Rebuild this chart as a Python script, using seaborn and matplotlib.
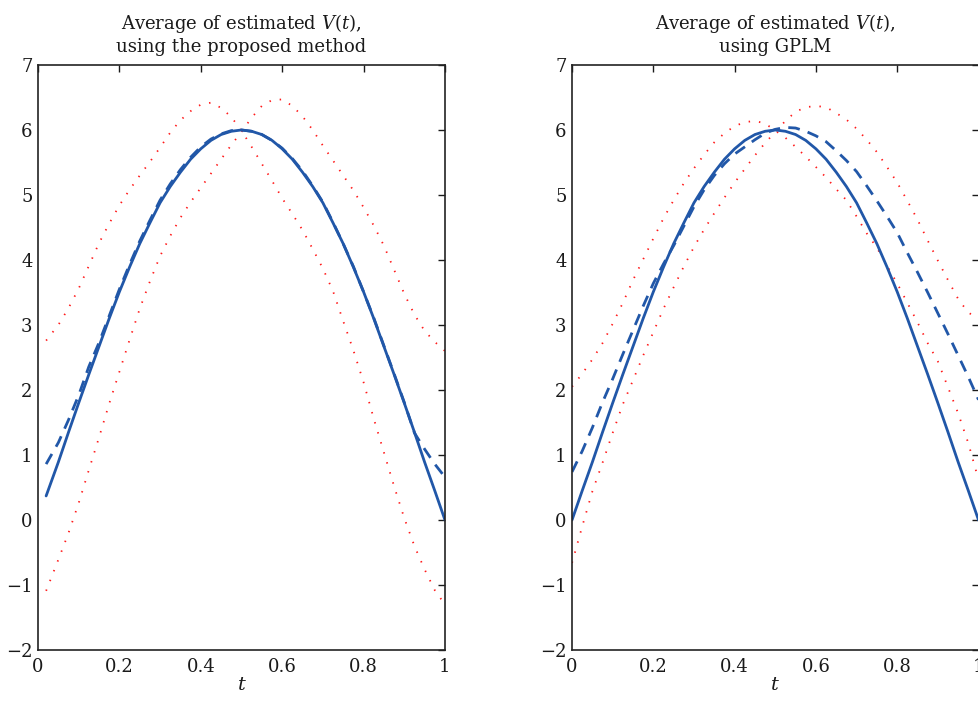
import numpy as np
import pandas as pd
import matplotlib
matplotlib.use("Agg")
import matplotlib.pyplot as plt
import seaborn as sns

# evaluation grid of t (the left panel starts at t=0.02)
t_right = list(np.round(np.arange(0, 1.0001, 0.025), 3))
t_left = [0.02] + t_right[2:]

# true V(t) (solid line)
true_left = [0.37,
             0.89, 1.35, 1.80, 2.24, 2.67, 3.10, 3.51, 3.89, 4.25, 4.57,
             4.88, 5.13, 5.35, 5.55, 5.71, 5.84, 5.93, 5.98, 6.00,
             5.98, 5.93, 5.84, 5.71, 5.55, 5.35, 5.13, 4.88, 4.57, 4.25,
             3.89, 3.51, 3.10, 2.67, 2.24, 1.80, 1.35, 0.89, 0.45, 0.00]
true_right = [0.00, 0.45,
              0.89, 1.35, 1.80, 2.24, 2.67, 3.10, 3.51, 3.89, 4.25, 4.57,
              4.88, 5.13, 5.35, 5.55, 5.71, 5.84, 5.93, 5.98, 6.00,
              5.98, 5.93, 5.84, 5.71, 5.55, 5.35, 5.13, 4.88, 4.57, 4.25,
              3.89, 3.51, 3.10, 2.67, 2.24, 1.80, 1.35, 0.89, 0.45, 0.00]

# proposed method: average estimate (dashed) and bands (dotted)
prop_mean = [0.86,
             1.19, 1.54, 1.92, 2.36, 2.73, 3.14, 3.55, 3.93, 4.29, 4.61,
             4.92, 5.17, 5.39, 5.58, 5.74, 5.86, 5.94, 5.99, 6.00,
             5.98, 5.93, 5.84, 5.72, 5.56, 5.37, 5.14, 4.89, 4.58, 4.25,
             3.90, 3.51, 3.11, 2.68, 2.25, 1.81, 1.34, 1.09, 0.86, 0.66]
prop_upper = [2.76,
              3.00, 3.26, 3.56, 3.91, 4.26, 4.56, 4.84, 5.08, 5.30, 5.51,
              5.73, 5.96, 6.15, 6.29, 6.39, 6.42, 6.34, 6.20, 5.99,
              5.74, 5.48, 5.22, 4.95, 4.71, 4.46, 4.17, 3.87, 3.52, 3.06,
              2.61, 2.12, 1.56, 1.04, 0.52, 0.03, -0.40, -0.76, -1.08, -1.30]
prop_lower = [-1.09,
              -0.61, -0.20, 0.26, 0.77, 1.27, 1.79, 2.28, 2.77, 3.25, 3.67,
              4.06, 4.37, 4.65, 4.89, 5.11, 5.33, 5.55, 5.77, 5.97,
              6.19, 6.37, 6.46, 6.47, 6.37, 6.21, 6.00, 5.76, 5.53, 5.30,
              5.07, 4.81, 4.53, 4.22, 3.85, 3.48, 3.16, 2.91, 2.74, 2.60]

# GPLM: average estimate (dashed) and bands (dotted)
gplm_mean = [0.74, 1.06,
             1.42, 1.81, 2.17, 2.55, 2.92, 3.29, 3.64, 3.94, 4.22, 4.52,
             4.82, 5.08, 5.30, 5.48, 5.63, 5.74, 5.85, 5.95, 6.01,
             6.04, 6.03, 5.98, 5.91, 5.82, 5.68, 5.53, 5.36, 5.14, 4.91,
             4.67, 4.42, 4.11, 3.81, 3.50, 3.18, 2.86, 2.53, 2.20, 1.85]
gplm_upper = [2.05, 2.25,
              2.47, 2.72, 3.02, 3.34, 3.69, 4.01, 4.33, 4.64, 4.92, 5.18,
              5.41, 5.62, 5.81, 5.95, 6.06, 6.12, 6.14, 6.10, 5.99,
              5.88, 5.74, 5.59, 5.43, 5.27, 5.09, 4.92, 4.67, 4.41, 4.19,
              3.91, 3.64, 3.34, 3.04, 2.72, 2.44, 2.04, 1.64, 1.18, 0.62]
gplm_lower = [-0.66, -0.10,
              0.44, 0.88, 1.34, 1.78, 2.15, 2.53, 2.89, 3.25, 3.58, 3.90,
              4.20, 4.47, 4.72, 4.96, 5.19, 5.40, 5.61, 5.80, 5.97,
              6.14, 6.28, 6.35, 6.37, 6.35, 6.26, 6.16, 6.02, 5.85, 5.66,
              5.43, 5.19, 4.91, 4.62, 4.30, 3.99, 3.69, 3.40, 3.19, 3.10]

titles = ["Average of estimated $V(t)$,\nusing the proposed method",
          "Average of estimated $V(t)$,\nusing GPLM"]

BLUE = "#2157a8"
RED = "#ff1a1a"

sns.set_style("white")
plt.rcParams["font.family"] = ["DejaVu Serif"]
plt.rcParams["mathtext.fontset"] = "dejavuserif"

fig = plt.figure(figsize=(9.79, 7.04), dpi=100)
axes = [fig.add_axes([0.0388, 0.0767, 0.4157, 0.831]),
        fig.add_axes([0.5843, 0.0767, 0.4152, 0.831])]

panels = [
    (t_left, true_left, prop_mean, prop_upper, prop_lower),
    (t_right, true_right, gplm_mean, gplm_upper, gplm_lower),
]

for ax, (tt, vtrue, vmean, vup, vlo), title in zip(axes, panels, titles):
    # dotted bands first, blue curves on top
    for band in (vup, vlo):
        sns.lineplot(x=tt, y=band, ax=ax, color=RED, lw=1.3,
                     linestyle=(0, (0.8, 5.0)), estimator=None, sort=False)
    sns.lineplot(x=tt, y=vtrue, ax=ax, color=BLUE, lw=2.0,
                 estimator=None, sort=False)
    sns.lineplot(x=tt, y=vmean, ax=ax, color=BLUE, lw=2.0,
                 linestyle=(0, (4.2, 3.0)), estimator=None, sort=False)

    ax.set_xlim(0, 1)
    ax.set_ylim(-2, 7)
    ax.set_xticks([0, 0.2, 0.4, 0.6, 0.8, 1])
    ax.set_xticklabels(["0", "0.2", "0.4", "0.6", "0.8", "1"])
    ax.set_yticks(range(-2, 8))
    ax.tick_params(direction="in", length=5, width=1, top=True, right=True,
                   labelsize=13, colors="#1a1a1a")
    ax.tick_params(axis="x", pad=6)
    ax.tick_params(axis="y", pad=4)
    for sp in ax.spines.values():
        sp.set_visible(True)
        sp.set_color("#222222")
        sp.set_linewidth(1.2)
    ax.set_xlabel("$t$", fontsize=14, labelpad=0, color="#1a1a1a")
    ax.set_ylabel("")
    ax.set_title(title, fontsize=13, pad=9, linespacing=1.25, color="#1a1a1a")

fig.savefig("out.png", dpi=100)
